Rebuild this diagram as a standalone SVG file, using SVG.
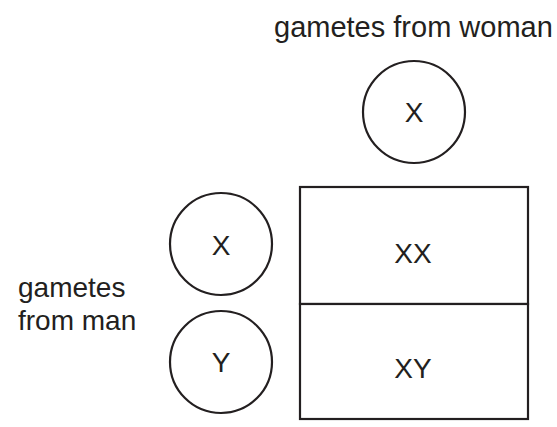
<svg xmlns="http://www.w3.org/2000/svg" width="557" height="427" viewBox="0 0 557 427">
  <style>
    .shape { fill: #ffffff; stroke: #231f20; stroke-width: 2.2; }
    .lbl { font-family: "Liberation Sans", Arial, sans-serif; font-size: 28px; fill: #231f20; }
    .big { font-size: 29px; }
    .mid { text-anchor: middle; }
  </style>
  <rect width="557" height="427" fill="#ffffff"/>
  <g id="label-woman">
    <text class="lbl big" x="274" y="37">gametes from woman</text>
  </g>
  <g id="label-man">
    <text class="lbl" x="18" y="297">gametes</text>
    <text class="lbl" x="18" y="330">from man</text>
  </g>
  <g id="woman-X">
    <circle class="shape" cx="414" cy="112" r="51"/>
    <text class="lbl mid" x="414" y="122">X</text>
  </g>
  <g id="man-X">
    <circle class="shape" cx="221" cy="244" r="51"/>
    <text class="lbl mid" x="221" y="255">X</text>
  </g>
  <g id="man-Y">
    <circle class="shape" cx="221" cy="362" r="51"/>
    <text class="lbl mid" x="221" y="372">Y</text>
  </g>
  <g id="cell-XX">
    <rect class="shape" x="300" y="187" width="228" height="117"/>
    <text class="lbl mid" x="413" y="263">XX</text>
  </g>
  <g id="cell-XY">
    <rect class="shape" x="300" y="304" width="228" height="115"/>
    <text class="lbl mid" x="413" y="378">XY</text>
  </g>
  <g id="connectors"></g>
</svg>
